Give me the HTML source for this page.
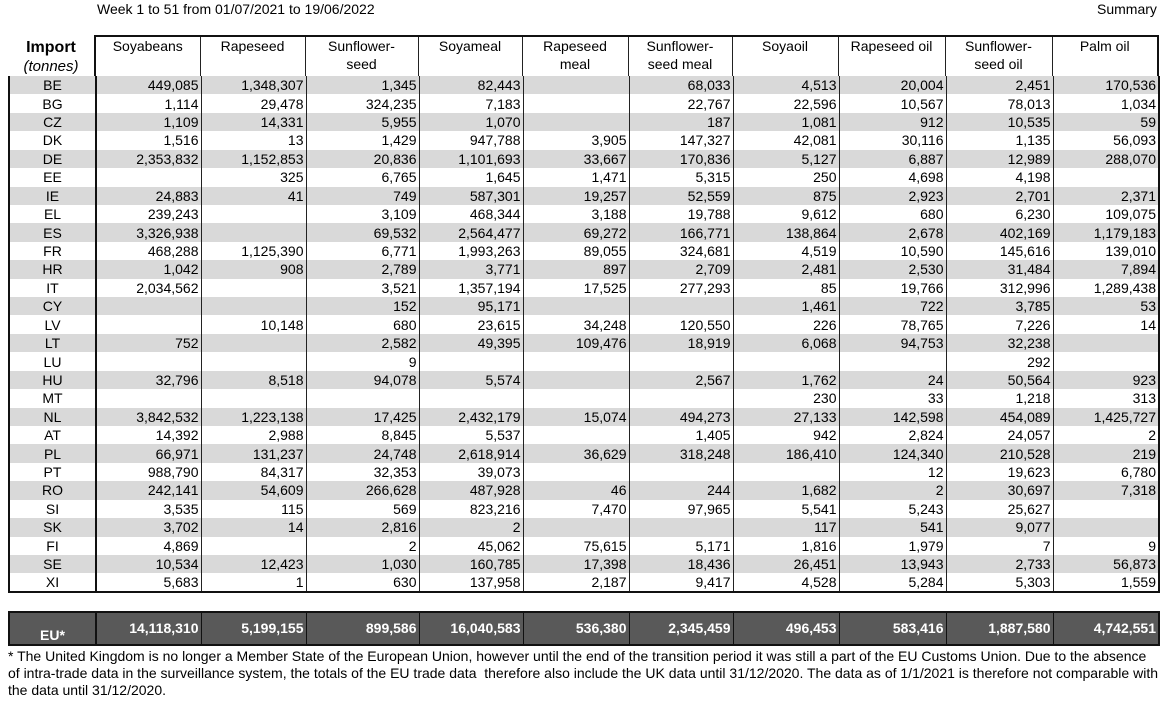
<!DOCTYPE html>
<html><head><meta charset="utf-8"><style>
body{margin:0;width:1164px;height:708px;background:#fff;font-family:"Liberation Sans",Arial,sans-serif;font-size:14px;color:#000;position:relative;overflow:hidden}
.t{position:absolute;white-space:nowrap}
table{border-collapse:collapse;table-layout:fixed;position:absolute;left:8px}
td{padding:0 2px 0 0;text-align:right;border-left:1px solid #222;border-right:1px solid #222;overflow:hidden;white-space:nowrap;line-height:16px}
td:first-child{text-align:center;border-left:2px solid #111;border-right:2px solid #111;padding:0}
td:last-child{border-right:2px solid #111}
#b tr{height:18.43px}
#b tr:nth-child(odd){background:#d9d9d9}
#b tr:last-child td{border-bottom:2px solid #111}
#h td{text-align:center;vertical-align:top;line-height:18px;padding:0;border-top:2px solid #111;border-bottom:2px solid #111}
#h td:first-child{border:none;border-right:2px solid #111;font-weight:bold;font-size:16px;line-height:19px;padding-top:2px}
#h td:first-child i{font-size:15px}
#e td{background:#595959;color:#fff;font-weight:bold;border-color:#111;border-top:2px solid #111;border-bottom:2px solid #111;vertical-align:top;padding-top:7px}
#e td:first-child{vertical-align:bottom;padding:0 0 1px 0}
</style></head><body>
<div class="t" style="left:97px;top:1px">Week 1 to 51 from 01/07/2021 to 19/06/2022</div>
<div class="t" style="left:1097px;top:1px">Summary</div>
<table id="h" style="top:35px">
<colgroup><col style="width:87px"><col style="width:105px"><col style="width:105px"><col style="width:113px"><col style="width:104px"><col style="width:106px"><col style="width:104px"><col style="width:106px"><col style="width:107px"><col style="width:107px"><col style="width:106px"></colgroup>
<tr style="height:41px"><td>Import<br><i style="font-weight:normal">(tonnes)</i></td><td>Soyabeans</td><td>Rapeseed</td><td>Sunflower-<br>seed</td><td>Soyameal</td><td>Rapeseed<br>meal</td><td>Sunflower-<br>seed meal</td><td>Soyaoil</td><td>Rapeseed oil</td><td>Sunflower-<br>seed oil</td><td>Palm oil</td></tr>
</table>
<table id="b" style="top:76px">
<colgroup><col style="width:87px"><col style="width:105px"><col style="width:105px"><col style="width:113px"><col style="width:104px"><col style="width:106px"><col style="width:104px"><col style="width:106px"><col style="width:107px"><col style="width:107px"><col style="width:106px"></colgroup>
<tr><td>BE</td><td>449,085</td><td>1,348,307</td><td>1,345</td><td>82,443</td><td></td><td>68,033</td><td>4,513</td><td>20,004</td><td>2,451</td><td>170,536</td></tr>
<tr><td>BG</td><td>1,114</td><td>29,478</td><td>324,235</td><td>7,183</td><td></td><td>22,767</td><td>22,596</td><td>10,567</td><td>78,013</td><td>1,034</td></tr>
<tr><td>CZ</td><td>1,109</td><td>14,331</td><td>5,955</td><td>1,070</td><td></td><td>187</td><td>1,081</td><td>912</td><td>10,535</td><td>59</td></tr>
<tr><td>DK</td><td>1,516</td><td>13</td><td>1,429</td><td>947,788</td><td>3,905</td><td>147,327</td><td>42,081</td><td>30,116</td><td>1,135</td><td>56,093</td></tr>
<tr><td>DE</td><td>2,353,832</td><td>1,152,853</td><td>20,836</td><td>1,101,693</td><td>33,667</td><td>170,836</td><td>5,127</td><td>6,887</td><td>12,989</td><td>288,070</td></tr>
<tr><td>EE</td><td></td><td>325</td><td>6,765</td><td>1,645</td><td>1,471</td><td>5,315</td><td>250</td><td>4,698</td><td>4,198</td><td></td></tr>
<tr><td>IE</td><td>24,883</td><td>41</td><td>749</td><td>587,301</td><td>19,257</td><td>52,559</td><td>875</td><td>2,923</td><td>2,701</td><td>2,371</td></tr>
<tr><td>EL</td><td>239,243</td><td></td><td>3,109</td><td>468,344</td><td>3,188</td><td>19,788</td><td>9,612</td><td>680</td><td>6,230</td><td>109,075</td></tr>
<tr><td>ES</td><td>3,326,938</td><td></td><td>69,532</td><td>2,564,477</td><td>69,272</td><td>166,771</td><td>138,864</td><td>2,678</td><td>402,169</td><td>1,179,183</td></tr>
<tr><td>FR</td><td>468,288</td><td>1,125,390</td><td>6,771</td><td>1,993,263</td><td>89,055</td><td>324,681</td><td>4,519</td><td>10,590</td><td>145,616</td><td>139,010</td></tr>
<tr><td>HR</td><td>1,042</td><td>908</td><td>2,789</td><td>3,771</td><td>897</td><td>2,709</td><td>2,481</td><td>2,530</td><td>31,484</td><td>7,894</td></tr>
<tr><td>IT</td><td>2,034,562</td><td></td><td>3,521</td><td>1,357,194</td><td>17,525</td><td>277,293</td><td>85</td><td>19,766</td><td>312,996</td><td>1,289,438</td></tr>
<tr><td>CY</td><td></td><td></td><td>152</td><td>95,171</td><td></td><td></td><td>1,461</td><td>722</td><td>3,785</td><td>53</td></tr>
<tr><td>LV</td><td></td><td>10,148</td><td>680</td><td>23,615</td><td>34,248</td><td>120,550</td><td>226</td><td>78,765</td><td>7,226</td><td>14</td></tr>
<tr><td>LT</td><td>752</td><td></td><td>2,582</td><td>49,395</td><td>109,476</td><td>18,919</td><td>6,068</td><td>94,753</td><td>32,238</td><td></td></tr>
<tr><td>LU</td><td></td><td></td><td>9</td><td></td><td></td><td></td><td></td><td></td><td>292</td><td></td></tr>
<tr><td>HU</td><td>32,796</td><td>8,518</td><td>94,078</td><td>5,574</td><td></td><td>2,567</td><td>1,762</td><td>24</td><td>50,564</td><td>923</td></tr>
<tr><td>MT</td><td></td><td></td><td></td><td></td><td></td><td></td><td>230</td><td>33</td><td>1,218</td><td>313</td></tr>
<tr><td>NL</td><td>3,842,532</td><td>1,223,138</td><td>17,425</td><td>2,432,179</td><td>15,074</td><td>494,273</td><td>27,133</td><td>142,598</td><td>454,089</td><td>1,425,727</td></tr>
<tr><td>AT</td><td>14,392</td><td>2,988</td><td>8,845</td><td>5,537</td><td></td><td>1,405</td><td>942</td><td>2,824</td><td>24,057</td><td>2</td></tr>
<tr><td>PL</td><td>66,971</td><td>131,237</td><td>24,748</td><td>2,618,914</td><td>36,629</td><td>318,248</td><td>186,410</td><td>124,340</td><td>210,528</td><td>219</td></tr>
<tr><td>PT</td><td>988,790</td><td>84,317</td><td>32,353</td><td>39,073</td><td></td><td></td><td></td><td>12</td><td>19,623</td><td>6,780</td></tr>
<tr><td>RO</td><td>242,141</td><td>54,609</td><td>266,628</td><td>487,928</td><td>46</td><td>244</td><td>1,682</td><td>2</td><td>30,697</td><td>7,318</td></tr>
<tr><td>SI</td><td>3,535</td><td>115</td><td>569</td><td>823,216</td><td>7,470</td><td>97,965</td><td>5,541</td><td>5,243</td><td>25,627</td><td></td></tr>
<tr><td>SK</td><td>3,702</td><td>14</td><td>2,816</td><td>2</td><td></td><td></td><td>117</td><td>541</td><td>9,077</td><td></td></tr>
<tr><td>FI</td><td>4,869</td><td></td><td>2</td><td>45,062</td><td>75,615</td><td>5,171</td><td>1,816</td><td>1,979</td><td>7</td><td>9</td></tr>
<tr><td>SE</td><td>10,534</td><td>12,423</td><td>1,030</td><td>160,785</td><td>17,398</td><td>18,436</td><td>26,451</td><td>13,943</td><td>2,733</td><td>56,873</td></tr>
<tr><td>XI</td><td>5,683</td><td>1</td><td>630</td><td>137,958</td><td>2,187</td><td>9,417</td><td>4,528</td><td>5,284</td><td>5,303</td><td>1,559</td></tr>
</table>
<table id="e" style="top:611px">
<colgroup><col style="width:87px"><col style="width:105px"><col style="width:105px"><col style="width:113px"><col style="width:104px"><col style="width:106px"><col style="width:104px"><col style="width:106px"><col style="width:107px"><col style="width:107px"><col style="width:106px"></colgroup>
<tr style="height:33px"><td>EU*</td><td>14,118,310</td><td>5,199,155</td><td>899,586</td><td>16,040,583</td><td>536,380</td><td>2,345,459</td><td>496,453</td><td>583,416</td><td>1,887,580</td><td>4,742,551</td></tr>
</table>
<div class="t" style="left:8px;top:648px;line-height:17px;white-space:normal;width:1152px">* The United Kingdom is no longer a Member State of the European Union, however until the end of the transition period it was still a part of the EU Customs Union. Due to the absence of intra-trade data in the surveillance system, the totals of the EU trade data&nbsp; therefore also include the UK data until 31/12/2020. The data as of 1/1/2021 is therefore not comparable with the data until 31/12/2020.</div>
</body></html>
